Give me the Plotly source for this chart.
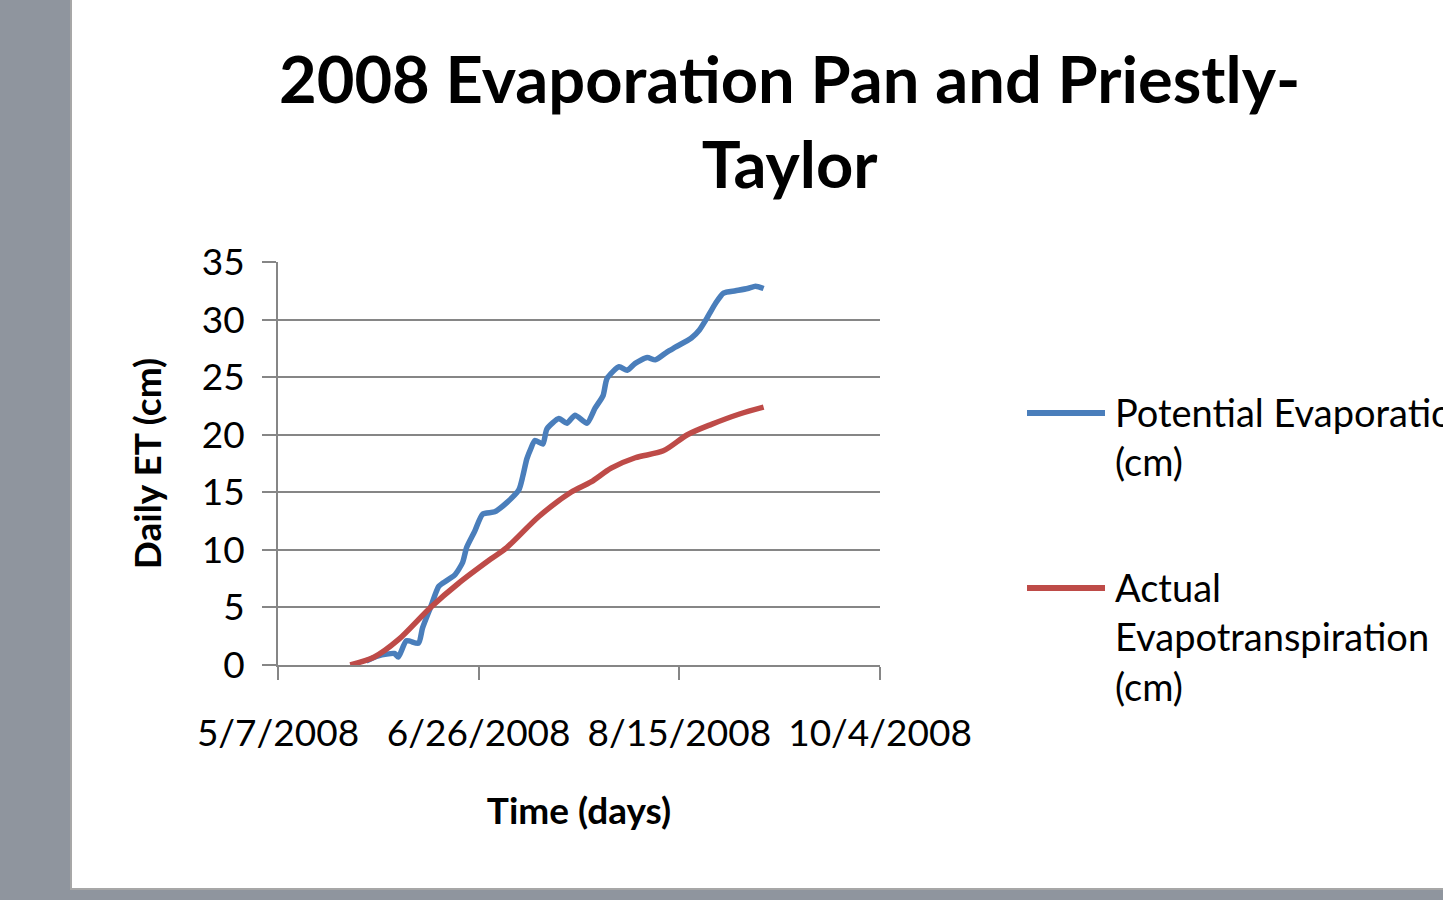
import plotly.graph_objects as go

# Cumulative potential evaporation (pan) and actual ET (Priestly-Taylor), 2008
pe_dates = [
    "2008-05-29", "2008-06-01", "2008-06-05", "2008-06-06", "2008-06-08", "2008-06-11",
    "2008-06-12", "2008-06-14", "2008-06-16", "2008-06-17", "2008-06-20", "2008-06-22",
    "2008-06-23", "2008-06-25", "2008-06-27", "2008-06-30", "2008-07-03", "2008-07-06",
    "2008-07-07", "2008-07-08", "2008-07-09", "2008-07-10", "2008-07-12", "2008-07-13",
    "2008-07-16", "2008-07-18", "2008-07-20", "2008-07-23", "2008-07-25", "2008-07-27",
    "2008-07-28", "2008-07-31", "2008-08-02", "2008-08-04", "2008-08-07", "2008-08-09",
    "2008-08-12", "2008-08-14", "2008-08-18", "2008-08-20", "2008-08-22", "2008-08-24",
    "2008-08-26", "2008-08-29", "2008-09-01", "2008-09-03", "2008-09-05",
]
pe_cm = [
    0.35, 0.8, 1.0, 0.7, 2.1, 1.9,
    3.2, 5.0, 6.8, 7.1, 7.8, 8.9,
    10.2, 11.6, 13.1, 13.3, 14.1, 15.2,
    16.4, 17.9, 18.8, 19.5, 19.2, 20.5,
    21.4, 21.0, 21.7, 21.0, 22.3, 23.4,
    24.9, 25.9, 25.6, 26.2, 26.7, 26.5,
    27.2, 27.6, 28.4, 29.1, 30.2, 31.4,
    32.3, 32.5, 32.7, 32.9, 32.7,
]

aet_dates = [
    "2008-05-25", "2008-05-31", "2008-06-06", "2008-06-14", "2008-06-21", "2008-06-29",
    "2008-07-03", "2008-07-11", "2008-07-19", "2008-07-24", "2008-07-29", "2008-08-04",
    "2008-08-11", "2008-08-17", "2008-08-23", "2008-08-30", "2008-09-05",
]
aet_cm = [
    0.0, 0.7, 2.2, 5.0, 7.1, 9.2,
    10.2, 12.9, 15.0, 15.9, 17.1, 18.0,
    18.6, 20.0, 20.9, 21.8, 22.4,
]

x_tick_dates = ["2008-05-07", "2008-06-26", "2008-08-15", "2008-10-04"]
x_tick_text = ["5/7/2008", "6/26/2008", "8/15/2008", "10/4/2008"]
y_ticks = [0, 5, 10, 15, 20, 25, 30, 35]

series_names = [
    "Potential Evaporation<br>(cm)",
    "Actual<br>Evapotranspiration<br>(cm)",
]
series_colors = ["#4A7EBB", "#BE4B48"]
title_text = "<b>2008 Evaporation Pan and Priestly-<br>Taylor</b>"

FONT = "Lato"
W, H = 1443, 900
# plot area in pixels
L, R, T, B = 278, 880, 262, 665


def px(x):
    return (x - L) / (R - L)


def py(y):
    return (B - y) / (B - T)


fig = go.Figure()
fig.add_trace(go.Scatter(x=pe_dates, y=pe_cm, mode="lines", name="Potential Evaporation (cm)",
                         line=dict(color=series_colors[0], width=5.5, shape="spline", smoothing=0.6),
                         showlegend=False))
fig.add_trace(go.Scatter(x=aet_dates, y=aet_cm, mode="lines", name="Actual Evapotranspiration (cm)",
                         line=dict(color=series_colors[1], width=5.5, shape="spline", smoothing=0.8),
                         showlegend=False))

shapes = [
    # white chart panel with thin border
    dict(type="rect", xref="paper", yref="paper", layer="below",
         x0=px(71), x1=px(1460), y0=py(-5), y1=py(889),
         fillcolor="white", line=dict(color="#A7A7A7", width=2)),
]
annotations = [
    dict(text=title_text, xref="paper", yref="paper",
         x=px(789), y=py(120), xanchor="center", yanchor="middle", showarrow=False,
         font=dict(family=FONT, size=65, color="black"), align="center"),
]

# legend drawn beside the plot
legend_rows = [(413, 1113), (588, 1113)]
for (ly, lx), name, color in zip(legend_rows, series_names, series_colors):
    shapes.append(dict(type="line", xref="paper", yref="paper",
                       x0=px(1027), x1=px(1105), y0=py(ly), y1=py(ly),
                       line=dict(color=color, width=6)))
    annotations.append(dict(text=name, xref="paper", yref="paper",
                            x=px(lx), y=py(ly - 26), xanchor="left", yanchor="top",
                            showarrow=False, align="left",
                            font=dict(family=FONT, size=38, color="black")))

fig.update_layout(
    width=W, height=H,
    margin=dict(l=L, r=W - R, t=T, b=H - B),
    paper_bgcolor="#8F959E",
    plot_bgcolor="white",
    shapes=shapes,
    annotations=annotations,
    font=dict(family=FONT, color="black"),
    xaxis=dict(
        range=[x_tick_dates[0], x_tick_dates[-1]],
        tickmode="array", tickvals=x_tick_dates, ticktext=x_tick_text,
        showgrid=False, showline=True, linecolor="#868686", linewidth=2,
        ticks="outside", ticklen=13, tickwidth=2, tickcolor="#868686",
        tickfont=dict(family=FONT, size=37, color="black"),
        ticklabelstandoff=22,
        title=dict(text="<b>Time (days)</b>", font=dict(family=FONT, size=37, color="black"),
                   standoff=45),
        zeroline=False,
    ),
    yaxis=dict(
        range=[0, 35],
        tickmode="array", tickvals=y_ticks,
        showgrid=True, gridcolor="#868686", gridwidth=2,
        showline=True, linecolor="#868686", linewidth=2,
        ticks="outside", ticklen=14, tickwidth=2, tickcolor="#868686",
        tickfont=dict(family=FONT, size=37, color="black"),
        ticklabelstandoff=10,
        title=dict(text="<b>Daily ET (cm)</b>", font=dict(family=FONT, size=37, color="black"),
                   standoff=29),
        zeroline=False,
    ),
)

fig.write_html("out.html")
